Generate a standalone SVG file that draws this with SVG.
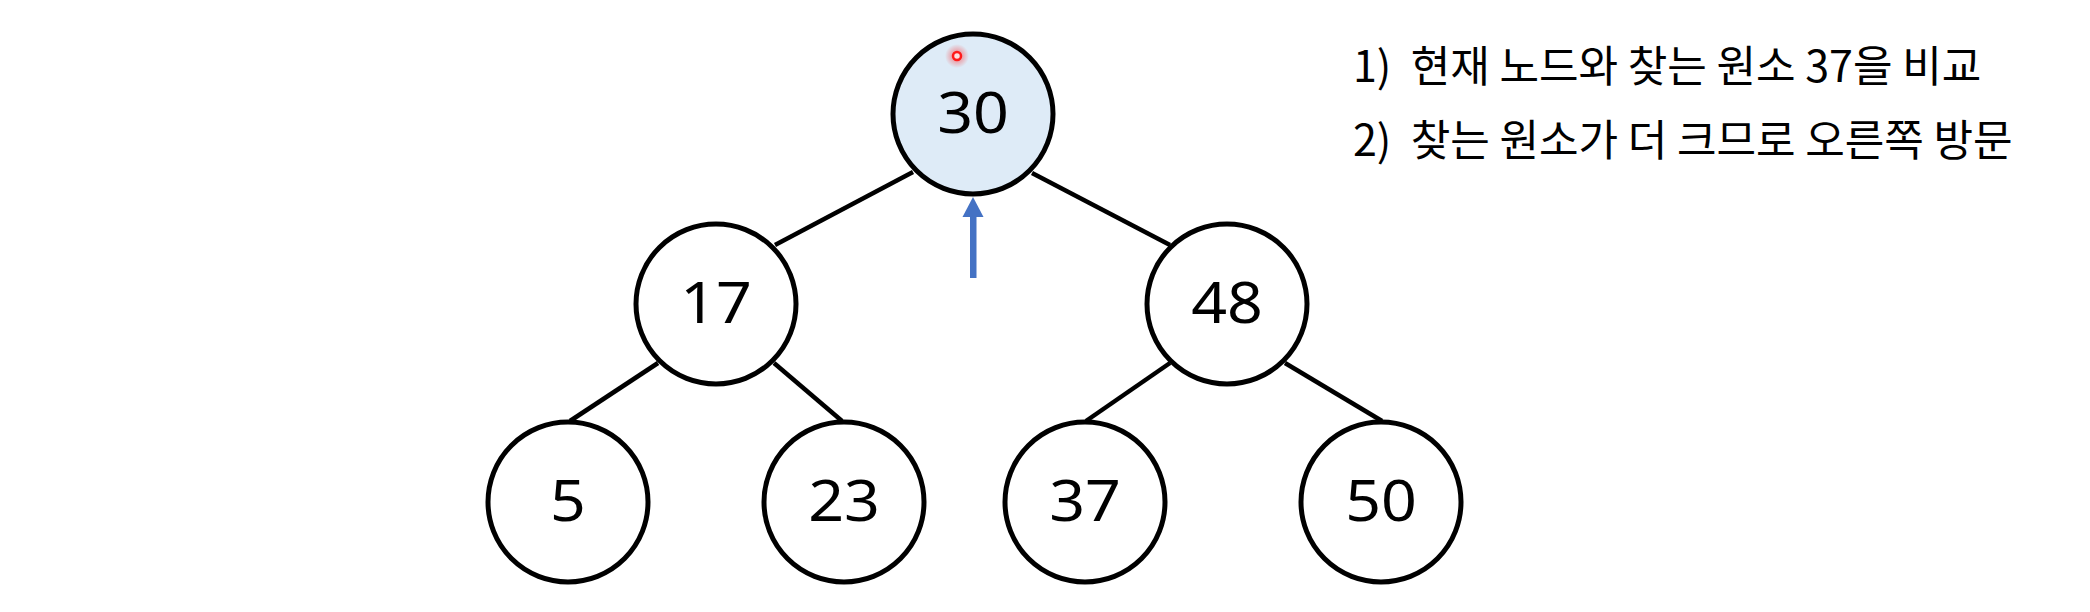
<svg xmlns="http://www.w3.org/2000/svg" width="2090" height="612" viewBox="0 0 2090 612">
<defs>
<style>
.node{fill:#ffffff;stroke:#000000;stroke-width:5}
.cur{fill:#DEEBF7}
.num{font-family:"Noto Sans","Open Sans","DejaVu Sans",sans-serif;font-size:56px;fill:#000000;text-anchor:middle}
.edge{stroke:#000000;stroke-width:4.5;stroke-linecap:butt}
.note{font-family:"Noto Sans CJK KR","Noto Sans",sans-serif;font-size:43px;fill:#000000}
</style>
<radialGradient id="glow">
<stop offset="0" stop-color="#ff2020" stop-opacity="0.6"/>
<stop offset="1" stop-color="#ff2020" stop-opacity="0"/>
</radialGradient>
</defs>
<rect x="0" y="0" width="2090" height="612" fill="#ffffff"/>
<g id="connectors">
<line class="edge" x1="913" y1="172" x2="775" y2="245"/>
<line class="edge" x1="1032" y1="173" x2="1170" y2="245"/>
<line class="edge" x1="658" y1="363" x2="570" y2="421"/>
<line class="edge" x1="774" y1="363" x2="842" y2="421"/>
<line class="edge" x1="1170" y1="363" x2="1086" y2="421"/>
<line class="edge" x1="1285" y1="363" x2="1382" y2="421"/>
</g>
<g id="node-30">
<circle class="node cur" cx="973" cy="114" r="80"/>
<text class="num" transform="translate(973,133) scale(1.12,1)">30</text>
</g>
<g id="node-17">
<circle class="node" cx="716" cy="304" r="80"/>
<text class="num" transform="translate(716,323) scale(1.12,1)">17</text>
</g>
<g id="node-48">
<circle class="node" cx="1227" cy="304" r="80"/>
<text class="num" transform="translate(1227,323) scale(1.12,1)">48</text>
</g>
<g id="node-5">
<circle class="node" cx="568" cy="502" r="80"/>
<text class="num" transform="translate(568,521) scale(1.12,1)">5</text>
</g>
<g id="node-23">
<circle class="node" cx="844" cy="502" r="80"/>
<text class="num" transform="translate(844,521) scale(1.12,1)">23</text>
</g>
<g id="node-37">
<circle class="node" cx="1085" cy="502" r="80"/>
<text class="num" transform="translate(1085,521) scale(1.12,1)">37</text>
</g>
<g id="node-50">
<circle class="node" cx="1381" cy="502" r="80"/>
<text class="num" transform="translate(1381,521) scale(1.12,1)">50</text>
</g>
<g id="pointer-arrow">
<rect x="970" y="215" width="6.5" height="63" fill="#4472C4"/>
<polygon points="973,197 962.5,217 983.5,217" fill="#4472C4"/>
</g>
<g id="laser-dot">
<circle cx="957" cy="56" r="12" fill="url(#glow)"/>
<circle cx="957" cy="56" r="4" fill="#ffdede" stroke="#ff1a1a" stroke-width="2.5"/>
</g>
<g id="notes">
<text class="note" x="1353" y="82" xml:space="preserve">1)  현재 노드와 찾는 원소 37을 비교</text>
<text class="note" x="1353" y="156" xml:space="preserve">2)  찾는 원소가 더 크므로 오른쪽 방문</text>
</g>
</svg>
